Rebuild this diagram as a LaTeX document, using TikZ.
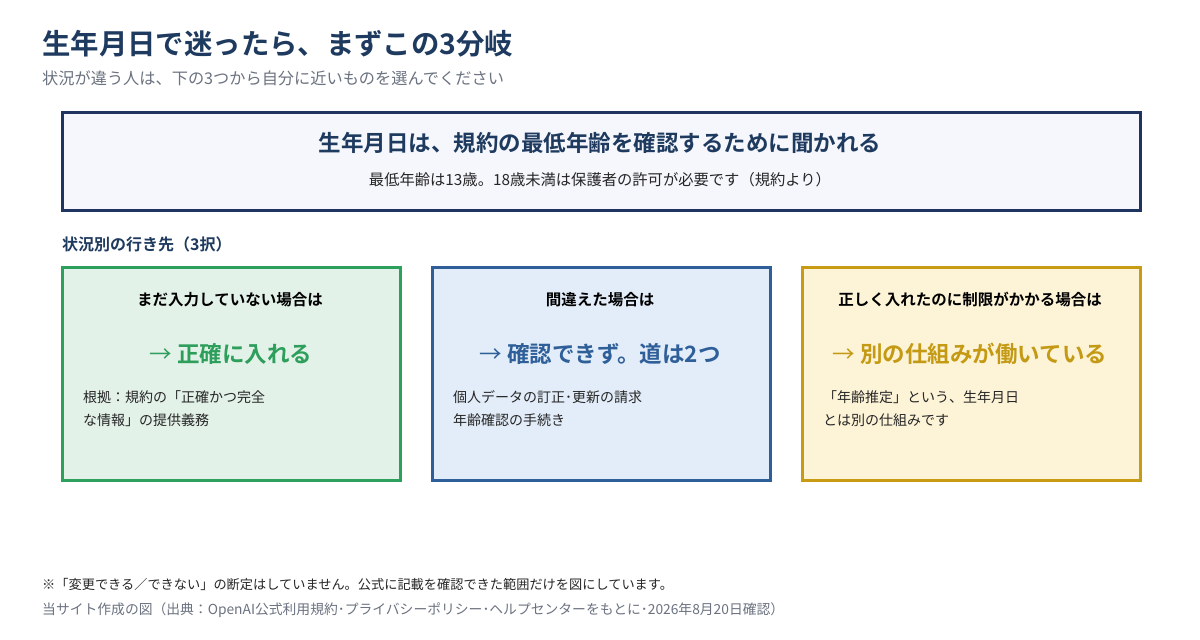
\documentclass[tikz,border=0pt]{standalone}
\usepackage{fontspec}
\setmainfont{Noto Sans CJK JP}[BoldFont={* Bold}]
\definecolor{navy}{HTML}{1E3A5F}
\definecolor{boxnavy}{HTML}{1F3560}
\definecolor{topfill}{HTML}{F5F7FC}
\definecolor{subgray}{HTML}{6B7280}
\definecolor{gborder}{HTML}{2EA05E}
\definecolor{gfill}{HTML}{E3F2E9}
\definecolor{bborder}{HTML}{2E5F98}
\definecolor{bfill}{HTML}{E3EDF9}
\definecolor{yborder}{HTML}{C89B12}
\definecolor{yfill}{HTML}{FDF3D7}
\definecolor{ytext}{HTML}{C49A14}
\definecolor{gtext}{HTML}{2E9E5B}
\newcommand{\fs}[1]{\fontsize{#1}{#1}\selectfont}
\tikzset{
  card/.style={draw=#1, line width=3pt, minimum width=338pt, minimum height=213pt, anchor=north west, inner sep=0pt},
  cardhead/.style={font=\fs{15.5}\bfseries, text=black, anchor=center, inner sep=0pt},
  cardbig/.style={font=\fs{22.5}\bfseries, anchor=center, inner sep=0pt},
  cardbody/.style={font=\fs{14}, text=black!85, anchor=west, inner sep=0pt, align=left},
}
\begin{document}
\begin{tikzpicture}[x=1pt,y=-1pt]
\useasboundingbox[fill=white] (0,0) rectangle (1200,640);
% title
\node[anchor=west, inner sep=0pt, font=\fs{28.4}\bfseries, text=navy] (title) at (42,44) {生年月日で迷ったら、まずこの3分岐};
\node[anchor=west, inner sep=0pt, font=\fs{16.2}, text=subgray] (sub) at (42,78) {状況が違う人は、下の3つから自分に近いものを選んでください};
% top box
\node[draw=boxnavy, fill=topfill, line width=3pt, minimum width=1078pt, minimum height=98pt, anchor=north west, inner sep=0pt] (top) at (61,111) {};
\node[font=\fs{22.5}\bfseries, text=navy, inner sep=0pt] (toph) at (600,143) {生年月日は、規約の最低年齢を確認するために聞かれる};
\node[font=\fs{15.3}, text=black!85, inner sep=0pt] (topb) at (600,180) {最低年齢は13歳。18歳未満は保護者の許可が必要です（規約より）};
% section label
\node[anchor=west, inner sep=0pt, font=\fs{16}\bfseries, text=navy] (sec) at (62,244) {状況別の行き先（3択）};
% cards
\node[card=gborder, fill=gfill] (c1) at (61,266) {};
\node[card=bborder, fill=bfill] (c2) at (431,266) {};
\node[card=yborder, fill=yfill] (c3) at (801,266) {};
% card 1
\node[cardhead] (h1) at (230,300) {まだ入力していない場合は};
\node[cardbig, text=gtext] (b1) at (231,354) {{\mdseries →} 正確に入れる};
\node[cardbody] (t1a) at (83,397) {根拠：規約の「正確かつ完全};
\node[cardbody] (t1b) at (83,420) {な情報」の提供義務};
% card 2
\node[cardhead] (h2) at (600,300) {間違えた場合は};
\node[cardbig, text=bborder] (b2) at (600,354) {{\mdseries →} 確認できず。道は2つ};
\node[cardbody] (t2a) at (453,397) {個人データの訂正･更新の請求};
\node[cardbody] (t2b) at (453,420) {年齢確認の手続き};
% card 3
\node[cardhead] (h3) at (970,300) {正しく入れたのに制限がかかる場合は};
\node[cardbig, text=ytext] (b3) at (970,354) {{\mdseries →} 別の仕組みが働いている};
\node[cardbody] (t3a) at (823,397) {「年齢推定」という、生年月日};
\node[cardbody] (t3b) at (823,420) {とは別の仕組みです};
% footnotes
\node[anchor=west, inner sep=0pt, font=\fs{13.2}, text=black!85] (n1) at (42,584) {※「変更できる／できない」の断定はしていません。公式に記載を確認できた範囲だけを図にしています。};
\node[anchor=west, inner sep=0pt, font=\fs{13.8}, text=subgray] (n2) at (42,610) {当サイト作成の図（出典：OpenAI公式利用規約･プライバシーポリシー･ヘルプセンターをもとに･2026年8月20日確認）};
\end{tikzpicture}
\end{document}
